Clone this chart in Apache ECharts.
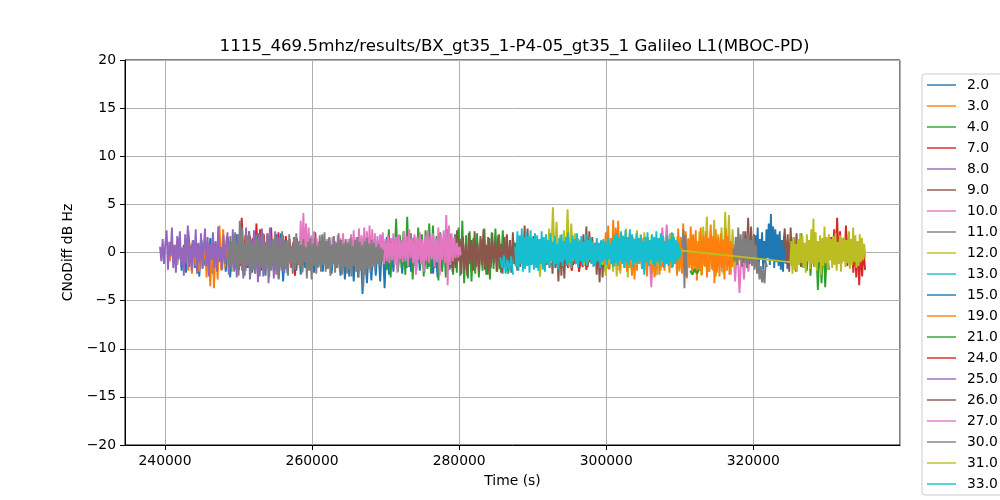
<!DOCTYPE html>
<html><head><meta charset="utf-8">
<script src="https://cdn.jsdelivr.net/npm/echarts@6/dist/echarts.min.js"></script>
<style>html,body{margin:0;padding:0;background:#fff}#c{width:1000px;height:500px}</style>
</head><body><div id="c"></div>
<script>
// ---- labels ----
const titleText = '1115_469.5mhz/results/BX_gt35_1-P4-05_gt35_1 Galileo L1(MBOC-PD)';
const xName = 'Time (s)';
const yName = 'CNoDiff dB Hz';
const seriesNames = ['2.0','3.0','4.0','7.0','8.0','9.0','10.0','11.0','12.0','13.0','15.0','19.0','21.0','24.0','25.0','26.0','27.0','30.0','31.0','33.0','34.0'];

// ---- data: each segment = start time (s), sample step (s), values (dB Hz) ----
const s2_t0 = 241361, s2_dt = 300;
const s2 = [0.5,-1.2,1.1,-1.9,0.8,-2.1,2.3,-1.0,1.2,-1.6,0.9,-2.5,1.3,-1.4,0.6,-1.8,1.5,-2.2,1.0,-1.3,1.4,-1.7,0.8,-2.0,1.6,-2.6,1.1,-1.5,1.9,-1.8,1.2,-2.3,0.9,-1.6,1.7,-2.1,0.6,-1.4,2.0,-1.9,1.1,-2.4,1.5,-1.2,0.8,-2.0,1.9,-2.7,2.0,-3.0,1.3,-2.2,0.9,-1.5,1.6,-1.9,1.0,-2.3,0.7,-1.6,1.2,-1.8,0.8,-2.1,1.4,-1.3,0.9,-2.0,1.1,-1.7,1.5,-2.2,0.7,-1.6,1.3,-2.4,1.0,-2.8,0.8,-2.5,1.1,-3.0,0.9,-2.6,1.3,-4.3,0.6,-3.2,1.0,-2.9,0.8,-2.4,1.2,-3.0,1.8,-3.7,1.6,-2.3,1.2,-2.0,1.4,-1.8,0.9,-2.2,1.3,-1.6,1.0,-2.0,1.5,-1.4,0.8,-1.9,1.2,-2.1,1.0,-1.5,1.3,-2.2,0.9,-2.6,1.1,-1.8,0.7,-1.4,1.2,-1.6,0.8,-1.2,0.5];

const s3_t0 = 240408, s3_dt = 250;
const s3 = [0.3,-0.9,1.2,-0.6,0.8,-1.3,1.5,-0.8,0.5,-1.1,0.7,-1.9,0.9,-2.2,1.1,-1.4,0.6,-2.0,0.8,-1.6,1.2,-2.6,0.9,-3.5,1.4,-3.7,1.0,-2.8,2.8,-1.9,2.4,-1.5,1.6,-2.0,1.1,-1.2,1.8,-1.7,0.9,-1.4,1.2,-1.0,0.7,-0.5];

const s4_t0 = 269932, s4_dt = 250;
const s4 = [1.2,-1.8,2.4,-2.6,1.5,-1.3,3.5,-2.0,1.8,-1.6,2.2,-2.3,3.7,-1.5,2.0,-2.8,1.6,-1.9,2.6,-1.4,1.9,-2.5,2.3,-1.7,3.0,-2.2,2.8,-1.6,1.7,-2.9,2.1,-2.0,1.5,-2.6,2.4,-1.8,1.2,-2.3,1.9,-2.1,2.6,-2.4,3.3,-3.2,1.8,-2.7,2.2,-3.0,1.5,-2.2,2.0,-2.6,1.4,-1.9,2.5,-2.3,1.6,-2.8,2.1,-1.7,2.5,-2.0,1.9,-2.1,2.3,-1.5,1.7,-2.2,1.3,-1.6,1.1,-1.4,0.8,-1.0,0.5,-0.6];

const s7a_t0 = 249932, s7a_dt = 250;
const s7a = [0.9,-1.4,3.6,-1.0,1.8,-1.6,2.2,-0.9,1.5,-1.3,3.0,-1.1,2.4,-1.7,1.9,-1.2,2.0,-0.8,2.6,-1.4,1.6,-1.5,2.1,-1.2,1.3,-1.8,1.7,-1.0,1.4,-1.6,1.0,-2.4,1.5,-1.3,0.9,-2.0,1.2,-1.1,0.8,-1.7,1.4,-1.2,2.1,-1.5,1.1,-0.9,0.7,-1.1,0.5,-0.6];
const s7b_t0 = 294556, s7b_dt = 250;
const s7b = [-0.3,-1.6,0.2,-1.9,-0.5,-1.2,0.1,-2.0,-0.7,-1.5,0.0,-1.8,-0.4,-1.0];

const s8_t0 = 239320, s8_dt = 180;
const s8 = [0.6,-0.9,1.4,-1.2,0.9,2.3,-1.8,1.1,-0.4,2.6,-1.6,0.8,-2.1,1.7,-0.7,2.2,-1.3,0.5,-2.4,1.9,-0.9,2.8,-1.5,0.7,-1.9,1.3,-0.6,2.4,-2.2,1.0,-1.1,2.0,-1.7,0.4,2.5,-1.4,1.6,-2.5,0.9,-0.8,2.1,-1.6,1.2,-2.0,2.7,-1.0,0.6,-1.8,1.8,-1.2,0.9,
2.1,-2.3,1.2,-1.5,2.4,-2.0,0.8,-2.6,1.9,-1.2,2.2,-1.9,1.0,-2.4,2.6,-1.4,1.5,-2.8,0.9,-1.7,2.3,-2.2,1.4,-3.1,2.0,-1.1,2.5,-2.5,1.1,-1.8,1.9,-3.2,2.6,-1.6,1.3,-2.7,2.2,-1.0,1.6,-2.3,0.7,-1.9,1.8,-2.1,1.2,-1.3,0.5];

const s9_t0 = 278502, s9_dt = 200;
const s9 = [0.8,-1.4,1.9,-2.0,1.1,-1.6,2.3,-0.9,1.4,-2.2,1.6,-1.8,0.9,-2.4,2.0,-1.2,1.3,-1.9,2.2,-1.5,1.0,-2.1,1.7,-1.3,2.4,-1.8,0.8,-2.3,1.5,-1.6,2.0,-1.1,1.2,-2.0,1.8,-1.7,0.9,-2.2,1.6,-1.4,1.9,-1.8,1.3,-2.1,2.1,-1.2,1.0,-1.9,1.4,-1.5,1.6,-1.0,2.8,-0.8,2.5,-1.3,1.1,-0.9,1.7,-1.2,1.4,-1.5,0.9,-1.1,1.2,-1.8,0.7,-1.3,1.0,-1.6,0.8,-2.2,1.3,-1.6,0.6,-3.0,1.1,-2.4,0.9,-2.7,1.0,-1.4,1.4,-0.9,1.2,-1.3,0.8,-1.1,1.5,-1.0,1.3,-0.8,1.9,-1.2,2.7,-1.5,2.2,-1.0,1.6,-1.4,1.0,-2.3,0.7,-3.1,1.2,-2.6,0.9,-2.0,1.1,-1.7,0.8,-1.2,0.5,-0.8];

const s10a_t0 = 258095, s10a_dt = 180;
const s10a = [1.2,-0.8,3.3,-1.5,4.1,-0.6,3.0,-1.2,2.6,-0.9,1.8,-1.4,2.2,-0.7,1.5,-1.6,1.1,-0.5,1.3,-1.0,1.0,-1.2,1.4,-0.6,0.9,-1.5,1.6,-0.8,1.2,-1.1,1.8,-0.9,1.5,-1.3,2.0,-0.7,1.2,-1.0,1.4,-1.7,1.9,-0.8,2.3,-1.2,1.6,-1.7,2.5,-0.6,1.8,-1.0,2.6,-1.3,2.2,-0.9,2.8,-1.5,2.4,-1.1,2.0,-0.7,1.7,-1.0,1.9,-0.6,2.1,-1.2,1.4,-0.9,1.8,-1.1,1.5,-0.8,2.0,-1.3,1.6,-2.1,1.9,-0.7,1.3,-1.0,2.2,-0.9,1.7,-1.4,2.4,-0.6,1.5,-1.1,1.9,-2.3,1.6,-0.8,2.1,-1.2,1.4,-2.0,1.8,-0.9,2.3,-1.1,1.7,-0.7,2.0,-1.5,1.5,-1.0,2.6,-2.4,1.9,-0.8,2.3,-1.1,3.9,-3.4,2.8,-1.3,2.0,-0.9,1.6,-0.6,1.0,-0.5,0.6,-0.3];
const s10b_t0 = 304626, s10b_dt = 300;
const s10b = [0.4,-1.2,1.0,-2.1,0.6,-3.6,0.9,-2.4,1.3,-1.0,2.6,-0.8,2.9,-1.3,1.7,-0.9,1.2,-1.6,0.8,-1.1,0.9,-1.4,0.6,-1.0,1.1,-1.7,0.5,-1.2,0.8,-0.9,1.2,-1.5,0.7,-1.9,1.0,-1.3,0.6,-2.0,1.4,-1.1,0.9,-2.3,1.2,-3.0,0.8,-4.2,1.0,-2.8,0.6,-2.0,0.5,-1.4,0.3,-0.8];

const s11_t0 = 248571, s11_dt = 160;
const s11 = [0.4,-1.5,1.7,-2.0,1.2,-0.8,2.1,-1.7,0.9,-2.4,3.3,-1.2,2.6,-2.7,1.0,-1.9,1.8,-1.1,2.2,-2.3,1.3,-1.8,0.7,-2.2,1.9,-1.0,1.5,-2.5,0.8,-1.6,2.0,-2.1,1.1,-1.4,1.7,-2.6,0.6,-1.9,1.4,-1.2,1.8,-2.3,0.9,-2.8,1.6,-1.5,2.2,-2.0,1.0,-1.7,1.3,-2.4,1.9,-1.1,0.7,-2.2,1.5,-1.8,2.0,-1.3,1.2,-1.6,0.8,-2.1,1.4,-1.0,0.6,-2.7,1.1,-1.9,1.5,-2.8,0.9,-1.4,1.6,-2.2,0.7,-1.5,1.8,-2.0,1.9,-1.3,2.1,-2.0,1.2,-1.7,1.6,-2.4,0.8,-1.2,1.7,-2.1,1.0,-1.6,2.0,-1.9,1.3,-2.3,0.9,-1.5,1.4,-2.2,1.0,-1.8,1.5,-2.5,0.7,-1.4,1.3,-2.0,1.6,-2.6,1.1,-1.9,0.8,-3.6,1.2,-2.3,1.5,-1.7,0.9,-2.1,1.3,-1.5,1.0,-1.8,0.6,-1.2,0.9,-1.4,0.5,-0.9,0.3];

const s12_t0 = 299182, s12_dt = 250;
const s12 = [0.5,-1.2,0.9,-2.4,0.7,-1.5,1.1,-2.0,0.8,-2.5,1.3,-2.2,1.8,-1.4,2.5,-2.6,2.0,-1.8,1.6,-1.1,2.3,-1.0,1.9,-1.6,2.1,-0.9,1.6,-1.3,1.8,-1.7,1.2,-2.3,1.5,-1.9,1.0,-1.4,1.4,-1.0,2.0,-1.6,1.1,-1.2,1.7,-2.0,1.3,-1.5,0.9,-1.8,1.5,-1.3,1.8,-2.1,1.2,-1.6,2.2,-2.4,2.7,-1.5,3.7,-2.0,2.3,-1.8,3.4,-2.5,1.9,-1.3,2.6,-2.2,4.2,-1.7,3.9,-2.0,2.4,-1.5,1.6,-1.1,1.0,-0.8,0.4];

const s13_t0 = 285577, s13_dt = 250;
const s13 = [-0.5,-1.6,-0.3,-2.2,-0.8,-1.9,-0.4,-2.3];

const s15_t0 = 319997, s15_dt = 150;
const s15 = [0.5,-1.2,1.8,-0.9,2.6,-1.5,1.4,-0.7,2.1,-1.8,1.2,-1.1,2.4,-0.6,3.0,-1.3,4.0,-0.8,2.7,-1.6,2.4,-1.0,1.9,-1.4,2.2,-1.8,1.3,-2.0,1.6,-1.1,0.9,-1.7,0.6,-0.8];

const s19_t0 = 299590, s19_dt = 170;
const s19 = [0.8,-1.2,2.1,-0.6,2.8,-1.8,1.5,-0.9,3.4,-1.4,2.6,-1.1,3.3,-1.9,2.0,-0.8,1.7,-1.5,1.2,-2.0,1.4,-1.6,0.9,-2.4,1.1,-2.8,0.7,-1.9,1.3,-1.2,0.8,-1.7,1.5,-1.0,0.6,-2.5,1.2,-1.4,0.9,-2.2,1.0,-2.6,0.7,-1.8,1.3,-2.3,0.5,-1.5,1.1,-1.9,1.6,-1.2,0.9,-2.1,1.4,-1.6,2.0,-1.0,1.2,-2.4,2.5,-1.8,1.6,-2.2,3.0,-1.3,2.2,-2.7,1.4,-1.6,2.7,-2.0,1.9,-1.5,2.3,-2.9,1.2,-1.9,2.6,-2.3,1.8,-1.4,2.2,-2.6,1.5,-2.0,2.9,-1.7,1.7,-3.2,2.4,-2.1,1.6,-2.5,2.0,-1.6,1.3,-2.8,2.5,-1.9,1.7,-2.3,1.2,-1.5,0.9,-1.0,0.4];

const s21a_t0 = 311426, s21a_dt = 300;
const s21a = [-1.9,-2.3,-1.7,-2.2,-1.8];
const s21b_t0 = 317685, s21b_dt = 300;
const s21b = [0.6,1.4,0.3,1.2,0.5];
const s21c_t0 = 325031, s21c_dt = 250;
const s21c = [0.9,-1.4,1.6,-2.0,1.1,-1.2,2.0,-1.6,0.8,-1.9,1.3,-2.4,0.7,-1.5,1.2,-3.9,0.9,-3.2,1.4,-3.6,0.6,-1.8];

const s24_t0 = 330201, s24_dt = 200;
const s24 = [0.5,-0.8,1.6,-0.6,2.4,-0.9,3.6,-0.7,2.2,-1.1,1.5,-0.9,2.8,-1.4,2.1,-1.2,1.3,-2.1,0.8,-2.6,1.0,-3.4,0.6,-2.5,0.4,-1.8];

const s25 = [];

const s26a_t0 = 318501, s26a_dt = 200;
const s26a = [0.8,-1.0,2.2,-0.6,3.6,-1.2,2.7,-0.8,1.9,-0.5,1.0];
const s26b_t0 = 324079, s26b_dt = 200;
const s26b = [0.7,2.5,-1.2,1.9,-2.0,2.6,-1.1,1.6,-1.7,2.0,-0.9,1.4,-1.5,0.6];

const s27 = [];

const s30a_t0 = 310338, s30a_dt = 150;
const s30a = [0.5,2.4,-3.7,1.8,-2.5];
const s30b_t0 = 317276, s30b_dt = 170;
const s30b = [0.4,-0.9,1.6,-1.3,2.6,-0.8,1.9,-1.5,2.2,-1.1,1.5,-1.6,2.0,-0.9,1.3,-1.4,1.7,-1.8,0.8,-2.2,-0.9,-2.8,-1.4,-3.1,-1.8,-3.2,-1.0,-1.5];

const s31a_t0 = 290747, s31a_dt = 250;
const s31a = [-0.5,-2.5,0.3,-1.8,1.2,-0.9,2.5,-1.1,4.7,-0.6,3.2,-1.3,1.8,-1.0,2.3,-0.7,4.5,-1.5,3.0,-0.9,2.0,-1.2,1.4,-0.8,1.1,-1.4,0.9,-1.0,1.3,-0.6,0.8,-1.1,1.2,-0.7,0.6,-1.3,1.0,-0.9,0.7,-1.2,1.1,-0.8,0.9,-1.4,1.3,-1.0,0.8,-1.6,1.2,-0.9,1.5,-1.1,1.0,-1.3,0.7,-0.8,1.2,-1.5,0.9,-1.0,1.3,-1.2,0.8,-0.9,1.1,-1.4,0.6,-1.0,0.9,-0.7,0.8,-0.6,0.5,-0.4,0.6,0.26];
const s31b_t0 = 325031, s31b_dt = 150;
const s31b = [-1.0,1.2,-2.2,1.6,-1.8,0.9,-2.0,1.4,-1.3,2.0,-1.1,1.7,-1.6,1.0,-2.1,1.9,-0.9,1.3,-1.7,2.4,-1.2,3.5,-1.5,2.1,-1.9,1.2,-1.0,1.8,-2.3,1.5,-1.4,2.7,-1.1,1.6,-1.8,1.9,-0.8,1.4,-1.6,1.7,-1.3,2.0,-1.9,1.1,-1.2,1.8,-2.0,1.5,-0.9,1.6,-1.5,1.3,-1.1,2.2,-1.7,1.4,-1.3,2.6,-1.0,1.8,-1.6,1.2,-1.4,1.9,-1.0,1.5,-0.8,0.9,-0.5];

const s33_t0 = 287618, s33_dt = 150;
const s33 = [0.6,-1.5,2.2,-1.9,1.8,-1.2,2.5,-2.0,1.6,-1.7,2.1,-1.4,1.7,-2.1,2.3,-1.3,1.5,-1.8,2.0,-1.6,1.8,-1.9,1.4,-1.2,2.2,-1.7,1.6,-2.0,1.9,-1.1,1.3,-1.5,2.0,-0.9,1.1,-1.6,1.7,-1.2,0.9,-1.8,1.5,-1.0,1.9,-1.4,1.2,-0.8,1.6,-1.3,2.1,-1.1,1.0,-1.6,1.8,-0.7,1.4,-1.2,2.0,-1.5,1.2,-0.9,1.7,-1.3,1.1,-1.0,1.9,-1.4,1.3,-0.8,1.6,-1.2,1.2,-1.5,0.8,-1.1,1.5,-0.9,1.0,-1.6,1.3,-1.0,1.4,-0.8,1.1,-1.3,1.6,-0.7,0.9,-1.2,1.3,-1.5,1.8,-1.1,2.0,-1.4,1.5,-0.9,2.2,-1.2,1.7,-1.6,2.3,-1.0,1.6,-1.3,2.4,-0.8,1.9,-1.5,1.4,-1.1,2.0,-1.2,1.5,-0.9,1.8,-1.7,1.2,-2.3,1.6,-1.0,2.1,-1.4,1.3,-0.8,1.9,-1.2,1.6,-1.5,2.2,-1.0,1.5,-1.3,2.0,-0.9,1.7,-1.6,1.2,-1.1,1.8,-1.4,1.4,-1.0,2.1,-1.5,1.6,-1.2,1.3,-0.9,1.0,-0.6,0.4];

const s34 = [];

// ---- tick values ----
const xTicks = [240000, 260000, 280000, 300000, 320000];
const yTicks = [-20, -15, -10, -5, 0, 5, 10, 15, 20];

// ---- build series from the arrays ----
function seg(t0, dt, vals) { return vals.map((v, i) => [t0 + i * dt, v]); }
function brk(a, b) { return [...a, [(a[a.length-1][0] + b[0][0]) / 2, null], ...b]; }

const seriesData = {
  '2.0': seg(s2_t0, s2_dt, s2),
  '3.0': seg(s3_t0, s3_dt, s3),
  '4.0': seg(s4_t0, s4_dt, s4),
  '7.0': brk(seg(s7a_t0, s7a_dt, s7a), seg(s7b_t0, s7b_dt, s7b)),
  '8.0': seg(s8_t0, s8_dt, s8),
  '9.0': seg(s9_t0, s9_dt, s9),
  '10.0': brk(seg(s10a_t0, s10a_dt, s10a), seg(s10b_t0, s10b_dt, s10b)),
  '11.0': seg(s11_t0, s11_dt, s11),
  '12.0': seg(s12_t0, s12_dt, s12),
  '13.0': seg(s13_t0, s13_dt, s13),
  '15.0': seg(s15_t0, s15_dt, s15),
  '19.0': seg(s19_t0, s19_dt, s19),
  '21.0': brk(brk(seg(s21a_t0, s21a_dt, s21a), seg(s21b_t0, s21b_dt, s21b)), seg(s21c_t0, s21c_dt, s21c)),
  '24.0': seg(s24_t0, s24_dt, s24),
  '25.0': s25,
  '26.0': brk(seg(s26a_t0, s26a_dt, s26a), seg(s26b_t0, s26b_dt, s26b)),
  '27.0': s27,
  '30.0': brk(seg(s30a_t0, s30a_dt, s30a), seg(s30b_t0, s30b_dt, s30b)),
  '31.0': [...seg(s31a_t0, s31a_dt, s31a), ...seg(s31b_t0, s31b_dt, s31b)],
  '33.0': seg(s33_t0, s33_dt, s33),
  '34.0': s34
};

const palette = ['#1f77b4','#ff7f0e','#2ca02c','#d62728','#9467bd','#8c564b','#e377c2','#7f7f7f','#bcbd22','#17becf'];
const FONT = 'DejaVu Sans';
const FS = 13.9;

const chart = echarts.init(document.getElementById('c'), null, {renderer: 'canvas'});
chart.setOption({
  animation: false,
  backgroundColor: '#ffffff',
  color: palette,
  title: {
    text: titleText,
    left: 509.5,
    top: 33,
    textAlign: 'center',
    textStyle: {fontFamily: FONT, fontSize: 16.7, fontWeight: 'normal', color: '#000'}
  },
  legend: {
    data: seriesNames,
    orient: 'vertical',
    left: 922,
    top: 74,
    padding: [4, 12, 4, 5],
    icon: 'path://M0,0H29V1.4H0Z',
    itemWidth: 29,
    itemHeight: 14,
    itemGap: 7,
    backgroundColor: 'rgba(255,255,255,0.8)',
    borderColor: '#cccccc',
    borderWidth: 1,
    borderRadius: 3,
    textStyle: {fontFamily: FONT, fontSize: FS, color: '#000', padding: [0, 0, 0, 6]}
  },
  grid: {left: 125, right: 100, top: 60, bottom: 55, show: true, borderColor: '#000', borderWidth: 1, containLabel: false},
  xAxis: {
    type: 'value',
    min: 234560,
    max: 339950,
    splitNumber: 5,
    name: xName,
    nameLocation: 'middle',
    nameGap: 29,
    nameTextStyle: {fontFamily: FONT, fontSize: FS, color: '#000'},
    axisLine: {show: true, onZero: false, lineStyle: {color: '#000', width: 1}},
    axisTick: {show: true, length: 5, lineStyle: {color: '#000', width: 1}},
    axisLabel: {
      showMinLabel: false, showMaxLabel: false, margin: 9,
      fontFamily: FONT, fontSize: FS, color: '#000',
      formatter: v => xTicks.includes(Math.round(v)) ? String(Math.round(v)) : ''
    },
    splitLine: {show: true, lineStyle: {color: '#b0b0b0', width: 1}}
  },
  yAxis: {
    type: 'value',
    min: yTicks[0],
    max: yTicks[yTicks.length - 1],
    interval: 5,
    name: yName,
    nameLocation: 'middle',
    nameGap: 42,
    nameTextStyle: {fontFamily: FONT, fontSize: FS, color: '#000'},
    axisLine: {show: true, onZero: false, lineStyle: {color: '#000', width: 1}},
    axisTick: {show: true, length: 5, lineStyle: {color: '#000', width: 1}},
    axisLabel: {
      margin: 9, fontFamily: FONT, fontSize: FS, color: '#000',
      formatter: v => String(v).replace('-', '\u2212')
    },
    splitLine: {show: true, lineStyle: {color: '#b0b0b0', width: 1}}
  },
  series: seriesNames.map((n, i) => ({
    name: n,
    type: 'line',
    data: seriesData[n],
    symbol: 'none',
    showSymbol: false,
    connectNulls: false,
    clip: true,
    lineStyle: {width: 1.9, color: palette[i % 10]},
    itemStyle: {color: palette[i % 10]},
    emphasis: {disabled: true}
  }))
});
</script></body></html>
